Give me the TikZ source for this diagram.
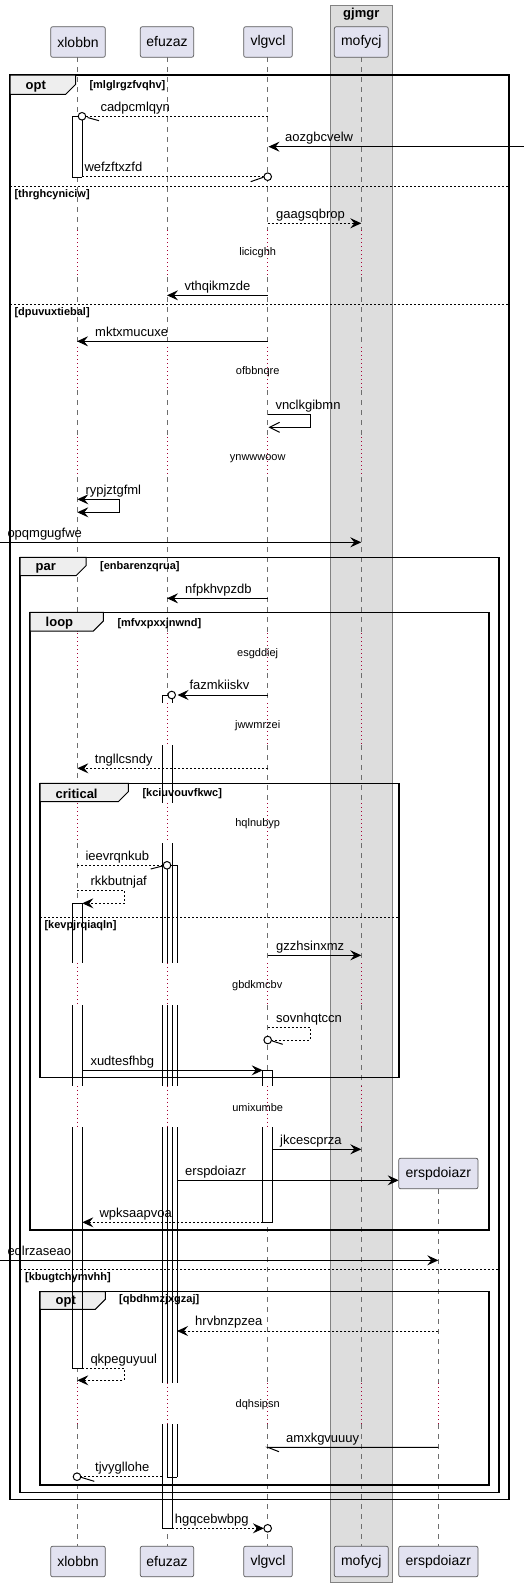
\documentclass[tikz,border=0pt]{standalone}
\usepackage{fontspec}
\setmainfont{Liberation Sans}
\usetikzlibrary{arrows.meta}
\definecolor{partfill}{RGB}{226,226,240}
\definecolor{partdraw}{RGB}{90,90,90}
\definecolor{boxfill}{RGB}{221,221,221}
\definecolor{boxdraw}{RGB}{130,130,130}
\definecolor{tabfill}{RGB}{238,238,238}
\definecolor{delayred}{RGB}{168,0,54}
\definecolor{lifegray}{RGB}{110,110,110}
% left, top, right, bottom, tab right, tab bottom
\newcommand\sqframe[6]{%
  \draw[frameline] (#1,#2) rectangle (#3,#4);
  \filldraw[tabline] (#1,#2) -- (#5,#2) -- (#5,#6-10) -- (#5-10,#6) -- (#1,#6) -- cycle;}
\newcommand\actfill[4]{\fill[white] (#1,#3) rectangle (#2,#4);}
\newcommand\actside[4]{\draw[actl] (#1,#3) -- (#1,#4) (#2,#3) -- (#2,#4);}
\begin{document}
\begin{tikzpicture}[x=1pt,y=-1pt,
  part/.style={draw=partdraw,fill=partfill,rounded corners=2pt,line width=0.7pt,font=\fontsize{14}{16}\selectfont,minimum height=30.6pt,inner sep=0pt},
  life/.style={draw=lifegray,line width=0.8pt,dash pattern=on 5pt off 5pt},
  delayl/.style={draw=delayred,line width=0.8pt,dash pattern=on 1pt off 3pt},
  frameline/.style={line width=1.5pt},
  tabline/.style={line width=1pt,fill=tabfill},
  divline/.style={line width=0.8pt,dash pattern=on 2pt off 2pt},
  flabel/.style={font=\bfseries\fontsize{13}{15}\selectfont,anchor=base west,inner sep=0pt},
  glabel/.style={font=\bfseries\fontsize{11}{13}\selectfont,anchor=base west,inner sep=0pt},
  mlbl/.style={font=\fontsize{13}{15}\selectfont,anchor=base west,inner sep=0pt},
  dlbl/.style={font=\fontsize{11}{13}\selectfont,anchor=base,inner sep=0pt},
  actl/.style={line width=1pt},
  ln/.style={line width=1pt},
  dln/.style={line width=1pt,dash pattern=on 2pt off 2pt},
  msg/.style={ln,-{Stealth[length=11pt,width=10pt,inset=4pt]}},
  dmsg/.style={dln,-{Stealth[length=11pt,width=10pt,inset=4pt]}},
  circ/.style={line width=1pt,fill=white},
]
\useasboundingbox (0,0) rectangle (524,1587);
\fill[white] (0,0) rectangle (524,1587);
% ---- box gjmgr
\draw[fill=boxfill,draw=boxdraw,line width=1pt] (330.3,5.7) rectangle (392.3,1582.7);
\node[font=\bfseries\fontsize{13}{15}\selectfont,anchor=base,inner sep=0pt] (boxtitle) at (361.3,17.5) {gjmgr};
% ---- lifelines
\foreach \x in {167,267.7,361.3}{
  \foreach \a/\b in {57.3/230,277/347,390/437,477/633,673/703,745/803,843/963,1005/1085.7,1127.3/1383.3,1424/1545.7}
    \draw[life] (\x,\a) -- (\x,\b);
  \foreach \a/\b in {230/277,347/390,437/477,633/673,703/745,803/843,963/1005,1085.7/1127.3,1383.3/1424}
    \draw[delayl] (\x,\a) -- (\x,\b);
}
\foreach \a/\b in {57.3/230,277/347,390/437,477/633,673/803,843/963,1005/1085.7,1127.3/1383.3,1424/1545.7}
  \draw[life] (77,\a) -- (77,\b);
\foreach \a/\b in {230/277,347/390,437/477,633/673,803/843,963/1005,1085.7/1127.3,1383.3/1424}
  \draw[delayl] (77,\a) -- (77,\b);
\foreach \a/\b in {1189.3/1383.3,1424/1545.7}
  \draw[life] (438.3,\a) -- (438.3,\b);
\draw[delayl] (438.3,1383.3) -- (438.3,1424);
% ---- activation fills
\actfill{72.3}{82.3}{116.3}{177.3}
\foreach \a/\b in {695/703,745/803,843/963.3,1005/1085.7,1127.3/1383.3,1424/1528.3}
  {\actfill{162}{172}{\a}{\b}}
\foreach \a/\b in {865.3/963.3,1005/1085.7,1127.3/1383.3,1424/1477.3}
  {\actfill{167}{177}{\a}{\b}}
\foreach \a/\b in {903.3/963.3,1005/1085.7,1127.3/1368.3}
  {\actfill{72.3}{82.3}{\a}{\b}}
\foreach \a/\b in {1070.3/1085.7,1127.3/1222.3}
  {\actfill{262.7}{272.7}{\a}{\b}}
% ---- frames
\sqframe{10}{75}{509}{1499.7}{75.7}{94.3}
\draw[divline] (10,186) -- (509,186);
\draw[divline] (10,304.3) -- (509,304.3);
\sqframe{20}{557.3}{499}{1492.3}{86}{575.7}
\draw[divline] (20,1269.3) -- (499,1269.3);
\sqframe{30}{612.3}{489}{1230}{103.3}{631}
\sqframe{40}{783.3}{399}{1077.7}{128.3}{801.7}
\draw[divline] (40,917.3) -- (399,917.3);
\sqframe{40}{1291.7}{489}{1485}{105.3}{1309.3}
% ---- activation sides and caps
\actside{72.3}{82.3}{116.3}{177.3}
\draw[actl] (72.3,116.3) -- (82.3,116.3) (72.3,177.3) -- (82.3,177.3);
\foreach \a/\b in {695/703,745/803,843/963.3,1005/1085.7,1127.3/1383.3,1424/1528.3}
  {\actside{162}{172}{\a}{\b}}
\draw[actl] (162,695) -- (172,695) (162,1528.3) -- (172,1528.3);
\foreach \a/\b in {865.3/963.3,1005/1085.7,1127.3/1383.3,1424/1477.3}
  {\actside{167}{177}{\a}{\b}}
\draw[actl] (167,865.3) -- (177,865.3) (167,1477.3) -- (177,1477.3);
\foreach \a/\b in {903.3/963.3,1005/1085.7,1127.3/1368.3}
  {\actside{72.3}{82.3}{\a}{\b}}
\draw[actl] (72.3,903.3) -- (82.3,903.3) (72.3,1368.3) -- (82.3,1368.3);
\foreach \a/\b in {1070.3/1085.7,1127.3/1222.3}
  {\actside{262.7}{272.7}{\a}{\b}}
\draw[actl] (262.7,1070.3) -- (272.7,1070.3) (262.7,1222.3) -- (272.7,1222.3);
% ---- frame labels and guards
\node[flabel] (f1) at (25.5,89) {opt};
\node[glabel] (g1) at (89.3,88.4) {[mlglrgzfvqhv]};
\node[glabel] (g2) at (14.3,197.7) {[thrghcyniciw]};
\node[glabel] (g3) at (14.3,315) {[dpuvuxtiebal]};
\node[flabel] (f2) at (35.5,570) {par};
\node[glabel] (g4) at (100,569.4) {[enbarenzqrua]};
\node[glabel] (g5) at (25,1280) {[kbugtchymvhh]};
\node[flabel] (f3) at (45.5,626) {loop};
\node[glabel] (g6) at (117.3,626) {[mfvxpxxjnwnd]};
\node[flabel] (f4) at (55.5,798) {critical};
\node[glabel] (g7) at (142.3,796.5) {[kciuvouvfkwc]};
\node[glabel] (g8) at (44.3,928) {[kevpjrqiaqln]};
\node[flabel] (f5) at (55.5,1304.5) {opt};
\node[glabel] (g9) at (119,1302.7) {[qbdhmzjxgzaj]};
% ---- delay texts
\node[dlbl] (d1) at (257.7,255.3) {licicghh};
\node[dlbl] (d2) at (257.7,374) {ofbbnqre};
\node[dlbl] (d3) at (257.7,460) {ynwwwoow};
\node[dlbl] (d4) at (257.7,656) {esgddiej};
\node[dlbl] (d5) at (257.7,728) {jwwmrzei};
\node[dlbl] (d6) at (257.7,826) {hqlnubyp};
\node[dlbl] (d7) at (257.2,988) {gbdkmcbv};
\node[dlbl] (d8) at (257.7,1111) {umixumbe};
\node[dlbl] (d9) at (257.7,1407.7) {dqhsipsn};
% ---- messages
% cadpcmlqyn
\draw[dln] (267.7,116.3) -- (86,116.3);
\draw[ln] (87.5,117.5) -- (99,120.7);
\draw[circ] (82,116.3) circle[radius=3.8pt];
\node[mlbl] (m1) at (100.3,111) {cadpcmlqyn};
% aozgbcvelw
\draw[msg] (524,146.7) -- (268.5,146.7);
\node[mlbl] (m2) at (285,141.4) {aozgbcvelw};
% wefzftxzfd
\draw[dln] (82.3,176.7) -- (263.9,176.7);
\draw[ln] (250.7,181.7) -- (263.5,177.2);
\draw[circ] (267.7,176.7) circle[radius=3.8pt];
\node[mlbl] (m3) at (84.3,171.4) {wefzftxzfd};
% gaagsqbrop
\draw[dmsg] (267.7,223.3) -- (361.3,223.3);
\node[mlbl] (m4) at (276,218) {gaagsqbrop};
% vthqikmzde
\draw[msg] (267.7,295.3) -- (167,295.3);
\node[mlbl] (m5) at (184.3,290) {vthqikmzde};
% mktxmucuxe
\draw[msg] (267.7,341.3) -- (77,341.3);
\node[mlbl] (m6) at (95,336) {mktxmucuxe};
% vnclkgibmn (self)
\draw[ln,-{Straight Barb[length=10pt,width=10pt]}] (267.7,414.3) -- (310,414.3) -- (310,427.3) -- (268.5,427.3);
\node[mlbl] (m7) at (275.3,409) {vnclkgibmn};
% rypjztgfml (self, both ends)
\draw[ln,{Stealth[length=11pt,width=10pt,inset=4pt]}-{Stealth[length=11pt,width=10pt,inset=4pt]}] (77.3,499.3) -- (119,499.3) -- (119,512.3) -- (77.3,512.3);
\node[mlbl] (m8) at (85.3,494) {rypjztgfml};
% opqmgugfwe
\draw[msg] (0,542.3) -- (361.3,542.3);
\node[mlbl] (m9) at (7.3,537) {opqmgugfwe};
% nfpkhvpzdb
\draw[msg] (267.7,598.3) -- (167,598.3);
\node[mlbl] (m10) at (185,593) {nfpkhvpzdb};
% fazmkiiskv
\draw[msg] (267.7,695) -- (177.5,695);
\draw[circ] (171.7,695) circle[radius=3.8pt];
\node[mlbl] (m11) at (189.3,689.7) {fazmkiiskv};
% tngllcsndy
\draw[dmsg] (267.7,768.3) -- (77.3,768.3);
\node[mlbl] (m12) at (94.7,763) {tngllcsndy};
% ieevrqnkub
\draw[dln] (77,865.3) -- (163.2,865.3);
\draw[ln] (150.7,869) -- (163.2,865.8);
\draw[circ] (167,865.3) circle[radius=3.8pt];
\node[mlbl] (m13) at (85.3,860) {ieevrqnkub};
% rkkbutnjaf (self)
\draw[dmsg] (77,890.3) -- (124.3,890.3) -- (124.3,903.3) -- (82.3,903.3);
\node[mlbl] (m14) at (90.3,885) {rkkbutnjaf};
% gzzhsinxmz
\draw[msg] (267.7,955.3) -- (361.3,955.3);
\node[mlbl] (m15) at (276,950) {gzzhsinxmz};
% sovnhqtccn (self)
\draw[dln] (267.7,1027.3) -- (310,1027.3) -- (310,1040) -- (271.5,1040);
\draw[ln] (271.8,1040.8) -- (282.7,1044.3);
\draw[circ] (267.7,1040) circle[radius=3.8pt];
\node[mlbl] (m16) at (276,1022) {sovnhqtccn};
% xudtesfhbg
\draw[msg] (82.3,1070.3) -- (262.7,1070.3);
\node[mlbl] (m17) at (90.3,1065) {xudtesfhbg};
% jkcescprza
\draw[msg] (272.7,1149.3) -- (361.3,1149.3);
\node[mlbl] (m18) at (280,1144) {jkcescprza};
% erspdoiazr (create)
\draw[msg] (177,1180.3) -- (398.7,1180.3);
\node[mlbl] (m19) at (185,1175) {erspdoiazr};
% wpksaapvoa
\draw[dmsg] (262.7,1222.3) -- (82.3,1222.3);
\node[mlbl] (m20) at (99.3,1217) {wpksaapvoa};
% eqlrzaseao
\draw[msg] (0,1260.3) -- (438.3,1260.3);
\node[mlbl] (m21) at (7.3,1255) {eqlrzaseao};
% hrvbnzpzea
\draw[dmsg] (438.3,1331) -- (177,1331);
\node[mlbl] (m22) at (195,1325.7) {hrvbnzpzea};
% qkpeguyuul (self)
\draw[dmsg] (82.3,1368.3) -- (124.3,1368.3) -- (124.3,1380.3) -- (77.3,1380.3);
\node[mlbl] (m23) at (90.3,1363) {qkpeguyuul};
% amxkgvuuuy
\draw[ln] (438.3,1447.3) -- (267.7,1447.3) -- (279,1451.7);
\node[mlbl] (m24) at (286,1442) {amxkgvuuuy};
% tjvygllohe
\draw[dln] (162,1476.7) -- (80.8,1476.7);
\draw[ln] (81,1477.3) -- (94.3,1481.3);
\draw[circ] (77,1476.7) circle[radius=3.8pt];
\node[mlbl] (m25) at (95,1471.4) {tjvygllohe};
% hgqcebwbpg
\draw[dmsg] (172,1528.3) -- (263.9,1528.3);
\draw[circ] (267.7,1528.3) circle[radius=3.8pt];
\node[mlbl] (m26) at (174.7,1523) {hgqcebwbpg};
% ---- participants
\node[part,minimum width=54.6pt] (xlT) at (78,42) {xlobbn};
\node[part,minimum width=53.4pt] (efT) at (167,42) {efuzaz};
\node[part,minimum width=48.6pt] (vlT) at (268,42) {vlgvcl};
\node[part,minimum width=54pt] (moT) at (361.3,42) {mofycj};
\node[part,minimum width=79.3pt] (erT) at (438.35,1173.5) {erspdoiazr};
\node[part,minimum width=54.6pt] (xlB) at (78,1561.5) {xlobbn};
\node[part,minimum width=53.4pt] (efB) at (167,1561.5) {efuzaz};
\node[part,minimum width=48.6pt] (vlB) at (268,1561.5) {vlgvcl};
\node[part,minimum width=54pt] (moB) at (361.3,1561.5) {mofycj};
\node[part,minimum width=79.3pt] (erB) at (438.35,1561.5) {erspdoiazr};
\end{tikzpicture}
\end{document}
